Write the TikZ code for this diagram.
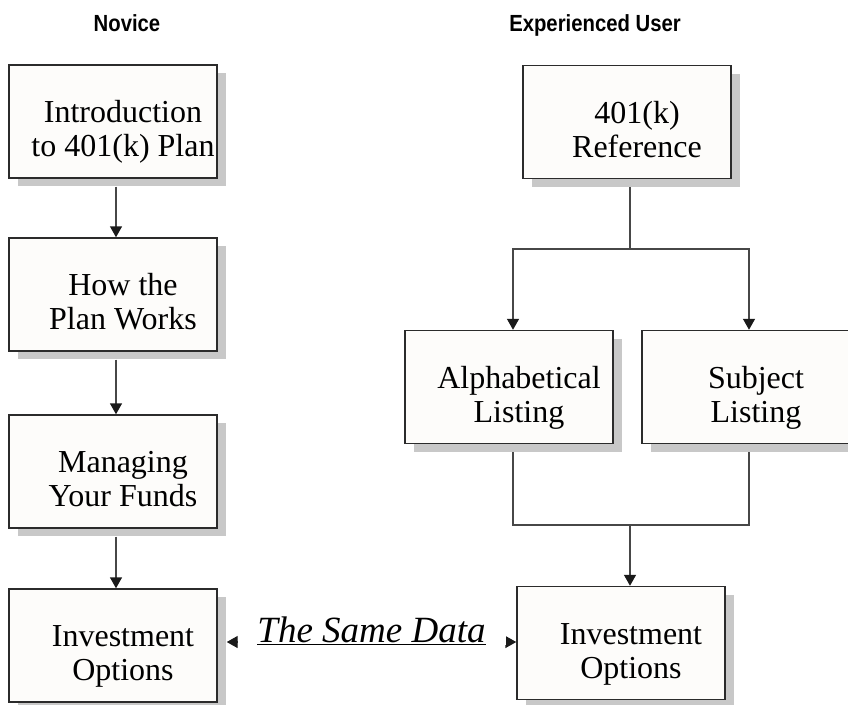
\documentclass[tikz,border=0pt]{standalone}
\usepackage{fontspec}
\setmainfont{Liberation Serif}
\newfontfamily\headfont{Liberation Sans}
\usetikzlibrary{arrows.meta,shadows,calc}

\definecolor{boxfill}{HTML}{FDFCFA}
\definecolor{boxline}{HTML}{2B2B2B}
\definecolor{connline}{HTML}{474747}
\definecolor{shade}{HTML}{C8C8C8}
\definecolor{tipcol}{HTML}{1A1A1A}

% two centred lines whose reference point is the first baseline
\newcommand\twoline[2]{\begin{tabular}[t]{@{}c@{}}#1\\#2\end{tabular}}

\begin{document}
\begin{tikzpicture}[
  x=0.75pt, y=-0.75pt,
  box/.style={draw=boxline, line width=1.1pt, fill=boxfill,
    minimum width=156pt, minimum height=84.75pt, inner sep=0pt,
    drop shadow={shadow xshift=6.75pt, shadow yshift=-6pt,
      fill=shade, draw=none, opacity=1}},
  lbl/.style={anchor=base, inner sep=0pt, font=\fontsize{24}{25.5}\selectfont},
  head/.style={anchor=base, inner sep=0pt, xscale=0.87,
    font=\headfont\bfseries\fontsize{17.5}{20}\selectfont},
  conn/.style={draw=connline, line width=1.1pt},
  tip/.tip={Triangle[width=9pt,length=8.25pt,color=tipcol]},
  samedata/.style={fill=white, anchor=base, inner sep=0pt, minimum width=201pt,
    font=\fontsize{27.75}{30}\selectfont\itshape}
]
\useasboundingbox (0,0) rectangle (848,704);

% column headings
\node[head] (hn) at (127,31) {Novice};
\node[head] (he) at (595,31) {Experienced User};

% novice path
\node[box] (n1) at (113,121.5) {};
\node[box] (n2) at (113,294.5) {};
\node[box] (n3) at (113,471.5) {};
\node[box] (n4) at (113,645.5) {};

% experienced user path
\node[box] (r1) at (627,122) {};
\node[box] (r2) at (509,387) {};
\node[box] (r3) at (746,387) {};
\node[box] (r4) at (621,643) {};

% box texts
\node[lbl] (n1t) at ([shift={(10,1)}]n1.center) {\twoline{Introduction}{to 401(k) Plan}};
\node[lbl] (n2t) at ([shift={(10,1)}]n2.center) {\twoline{How the}{Plan Works}};
\node[lbl] (n3t) at ([shift={(10,1)}]n3.center) {\twoline{Managing}{Your Funds}};
\node[lbl] (n4t) at ([shift={(10,1)}]n4.center) {\twoline{Investment}{Options}};
\node[lbl] (r1t) at ([shift={(10,1)}]r1.center) {\twoline{401(k)}{Reference}};
\node[lbl] (r2t) at ([shift={(10,1)}]r2.center) {\twoline{Alphabetical}{Listing}};
\node[lbl] (r3t) at ([shift={(10,1)}]r3.center) {\twoline{Subject}{Listing}};
\node[lbl] (r4t) at ([shift={(10,1)}]r4.center) {\twoline{Investment}{Options}};

% novice connectors
\draw[conn,-tip] ([shift={(3,8)}]n1.south) -- ([shift={(3,0)}]n2.north);
\draw[conn,-tip] ([shift={(3,8)}]n2.south) -- ([shift={(3,0)}]n3.north);
\draw[conn,-tip] ([shift={(3,8)}]n3.south) -- ([shift={(3,0)}]n4.north);

% split below the reference box
\coordinate (sj) at (630,249);
\draw[conn] ([shift={(3,8)}]r1.south) -- (sj);
\draw[conn,-tip] (sj) -| ([shift={(4,0)}]r2.north);
\draw[conn,-tip] (sj) -| ([shift={(3,0)}]r3.north);

% merge above the investment options box
\coordinate (mj) at (630,525);
\draw[conn] ([shift={(4,8)}]r2.south) |- (mj) -| ([shift={(3,8)}]r3.south);
\draw[conn,-tip] (mj) -- (r4.north -| mj);

% both investment boxes hold the same data
\draw[conn,tip-tip] ($(n4.east |- r4.west)+(9,-1)$) -- ($(r4.west)+(0,-1)$)
  node[samedata, midway] (sd) {\underline{The Same Data}};
\end{tikzpicture}
\end{document}
